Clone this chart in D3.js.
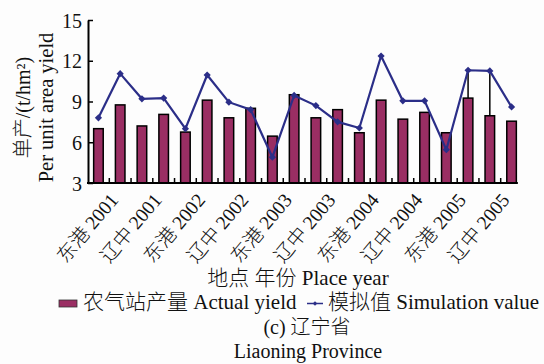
<!DOCTYPE html>
<html>
<head>
<meta charset="utf-8">
<script src="https://cdn.jsdelivr.net/npm/d3@7/dist/d3.min.js"></script>
<style>
  html, body { margin: 0; padding: 0; background: #fdfdfd; }
  svg { display: block; }
  text { font-family: "Liberation Serif", "Noto Sans CJK SC", serif; fill: #111; font-weight: 300; }
</style>
</head>
<body>
<svg id="chart" width="544" height="364"></svg>
<script>
// ---- data ----
const categories = [
  "东港 2001a", "东港 2001", "辽中 2001a", "辽中 2001",
  "东港 2002a", "东港 2002", "辽中 2002a", "辽中 2002",
  "东港 2003a", "东港 2003", "辽中 2003a", "辽中 2003",
  "东港 2004a", "东港 2004", "辽中 2004a", "辽中 2004",
  "东港 2005a", "东港 2005", "辽中 2005a", "辽中 2005"
];
const tickLabels = ["东港 2001", "辽中 2001", "东港 2002", "辽中 2002", "东港 2003",
                    "辽中 2003", "东港 2004", "辽中 2004", "东港 2005", "辽中 2005"];
const actualYield = [7.0, 8.75, 7.2, 8.05, 6.75, 9.1, 7.8, 8.5, 6.45, 9.5,
                     7.8, 8.4, 6.7, 9.1, 7.7, 8.2, 6.7, 9.25, 7.95, 7.55];
const simulationValue = [7.8, 11.05, 9.2, 9.25, 7.0, 10.95, 8.95, 8.4, 4.9, 9.45,
                         8.7, 7.5, 7.05, 12.35, 9.05, 9.05, 5.45, 11.3, 11.25, 8.6];
const yTicks = [3, 6, 9, 12, 15];
const dropLineIdx = [17, 18];

// ---- layout ----
const svg = d3.select("#chart");
const pLeft = 88, pRight = 522, pTop = 20, pBottom = 183;
const barColor = "#9a2e63";
const lineColor = "#2b2e88";

const x = d3.scaleBand().domain(categories).range([pLeft, pRight])
  .paddingInner(0.56).paddingOuter(0.26);
const y = d3.scaleLinear().domain([3, 15]).range([pBottom, pTop]);

// bars
svg.append("g").selectAll("rect").data(categories).join("rect")
  .attr("x", d => x(d))
  .attr("y", (d, i) => y(actualYield[i]))
  .attr("width", x.bandwidth())
  .attr("height", (d, i) => pBottom - y(actualYield[i]))
  .attr("fill", barColor)
  .attr("stroke", "#000")
  .attr("stroke-width", 1.5);

// drop lines (from marker to bar top)
svg.append("g").selectAll("line").data(dropLineIdx).join("line")
  .attr("x1", i => x(categories[i]) + x.bandwidth() / 2)
  .attr("x2", i => x(categories[i]) + x.bandwidth() / 2)
  .attr("y1", i => y(simulationValue[i]))
  .attr("y2", i => y(actualYield[i]))
  .attr("stroke", "#000").attr("stroke-width", 1.5);

// simulation line
const line = d3.line()
  .x((d, i) => x(categories[i]) + x.bandwidth() / 2)
  .y(d => y(d));
svg.append("path").datum(simulationValue)
  .attr("d", line).attr("fill", "none")
  .attr("stroke", lineColor).attr("stroke-width", 2.2);
const marker = d3.symbol().type(d3.symbolSquare).size(26);
svg.append("g").selectAll("path").data(simulationValue).join("path")
  .attr("d", marker)
  .attr("transform", (d, i) => `translate(${x(categories[i]) + x.bandwidth() / 2},${y(d)}) rotate(45)`)
  .attr("fill", lineColor);

// y axis
const yAxis = d3.axisLeft(y).tickValues(yTicks).tickSizeInner(-5).tickSizeOuter(0).tickPadding(6);
const gy = svg.append("g").attr("transform", `translate(${pLeft},0)`).call(yAxis);
gy.select(".domain").attr("stroke", "#000").attr("stroke-width", 2);
gy.selectAll(".tick line").attr("stroke", "#000").attr("stroke-width", 1.5);
gy.selectAll(".tick text").style("font-size", "20px").attr("fill", "#111")
  .style("font-family", "'Liberation Serif', serif").attr("dy", "0.36em");

// x axis
const xEnd = x(categories[categories.length - 1]) + x.bandwidth() + 1.5;
svg.append("line").attr("x1", pLeft - 1).attr("x2", xEnd)
  .attr("y1", pBottom).attr("y2", pBottom)
  .attr("stroke", "#000").attr("stroke-width", 2);
const step = x.step();
const boundaries = categories.slice(1).map(c => x(c) - step * x.paddingInner() / 2);
svg.append("g").selectAll("line").data(boundaries).join("line")
  .attr("x1", d => d).attr("x2", d => d)
  .attr("y1", pBottom).attr("y2", pBottom - 5)
  .attr("stroke", "#000").attr("stroke-width", 1.5);

// x tick labels (every other category)
const labelCats = categories.filter((c, i) => i % 2 === 1);
svg.append("g").selectAll("text").data(labelCats).join("text")
  .attr("transform", d => `translate(${x(d) + x.bandwidth() / 2 - 1},${pBottom + 17.5}) rotate(-50)`)
  .attr("text-anchor", "end")
  .style("font-size", "19.5px")
  .text((d, i) => tickLabels[i]);

// axis titles
svg.append("text")
  .attr("transform", `translate(30,${(pTop + pBottom) / 2 + 6}) rotate(-90)`)
  .attr("text-anchor", "middle").style("font-size", "20px")
  .text("单产/(t/hm²)");
svg.append("text")
  .attr("transform", `translate(53,${(pTop + pBottom) / 2 + 6}) rotate(-90)`)
  .attr("text-anchor", "middle").style("font-size", "20.5px")
  .text("Per unit area yield");
svg.append("text").attr("x", 298).attr("y", 285)
  .attr("text-anchor", "middle").style("font-size", "21px")
  .text("地点 年份 Place year");

// legend
svg.append("rect").attr("x", 59).attr("y", 300).attr("width", 18).attr("height", 7)
  .attr("fill", barColor).attr("stroke", "#333").attr("stroke-width", 0.8);
svg.append("text").attr("x", 83).attr("y", 309).style("font-size", "21px")
  .text("农气站产量 Actual yield");
svg.append("line").attr("x1", 307).attr("x2", 323).attr("y1", 303.5).attr("y2", 303.5)
  .attr("stroke", lineColor).attr("stroke-width", 1.5);
svg.append("path").attr("d", d3.symbol().type(d3.symbolSquare).size(10))
  .attr("transform", "translate(315,303.5) rotate(45)").attr("fill", lineColor);
svg.append("text").attr("x", 328).attr("y", 309).style("font-size", "21px")
  .text("模拟值 Simulation value");

// caption
svg.append("text").attr("x", 307).attr("y", 334).attr("text-anchor", "middle")
  .style("font-size", "20px").text("(c) 辽宁省");
svg.append("text").attr("x", 308).attr("y", 358).attr("text-anchor", "middle")
  .style("font-size", "20px").text("Liaoning Province");
</script>
</body>
</html>
